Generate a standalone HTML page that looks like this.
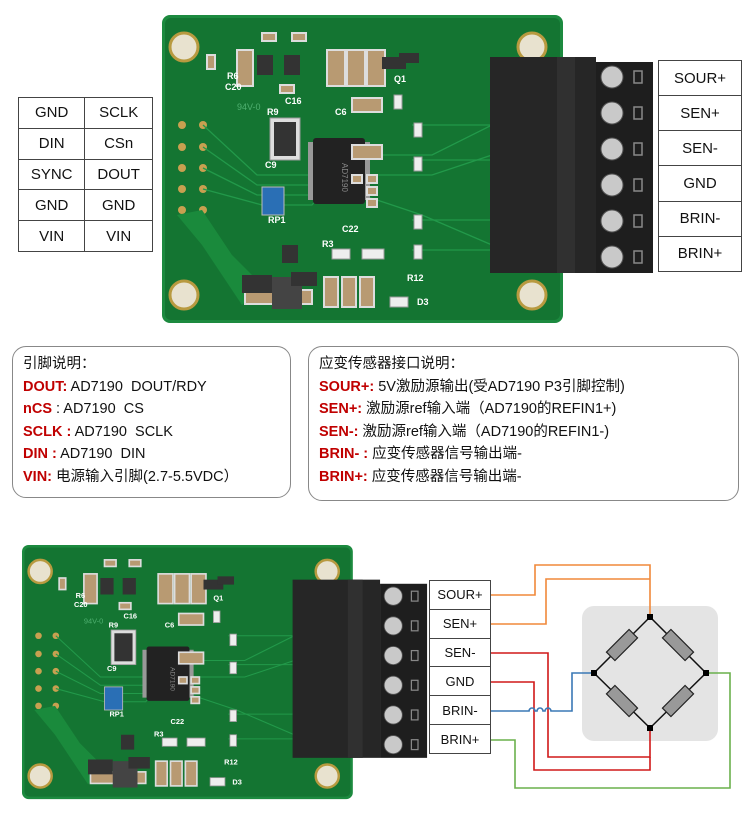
<!DOCTYPE html>
<html><head><meta charset="utf-8">
<style>
*{margin:0;padding:0;box-sizing:border-box}
body{width:750px;height:818px;background:#fff;position:relative;overflow:hidden;font-family:"Liberation Sans","Noto Sans CJK SC",sans-serif;color:#111}
table{position:absolute;border-collapse:collapse;background:#fff}
td{border:1.5px solid #444;text-align:center;font-size:15px;padding:0}
.box{position:absolute;border:1.5px solid #888;border-radius:14px;padding:6px 10px;font-size:14.5px;line-height:22.6px;background:#fff}
.r{color:#c00000;font-weight:bold}
</style></head><body>
<svg width="750" height="818" style="position:absolute;left:0;top:0">
<defs>
<g id="pcb">
 <rect x="0" y="0" width="401" height="308" rx="8" fill="#1c8a3f"/>
 <rect x="3" y="3" width="395" height="302" rx="6" fill="#147532"/>
 <g fill="#e8e2cf" stroke="#b89a40" stroke-width="3">
  <circle cx="22" cy="32" r="14"/><circle cx="370" cy="32" r="14"/>
  <circle cx="22" cy="280" r="14"/><circle cx="370" cy="280" r="14"/>
 </g>
 <g fill="#c8a050"><circle cx="20" cy="110" r="4"/><circle cx="41" cy="110" r="4"/><circle cx="20" cy="132" r="4"/><circle cx="41" cy="132" r="4"/><circle cx="20" cy="153" r="4"/><circle cx="41" cy="153" r="4"/><circle cx="20" cy="174" r="4"/><circle cx="41" cy="174" r="4"/><circle cx="20" cy="195" r="4"/><circle cx="41" cy="195" r="4"/></g>
 <g fill="none" stroke="#22994a" stroke-width="1.3">
  <path d="M41 110 L95 160 L150 160 L175 130"/><path d="M41 132 L95 170 L150 170 L175 140"/><path d="M41 153 L95 180 L150 180 L175 150"/><path d="M41 174 L100 190 L150 190 L175 160"/>
  <path d="M200 140 L270 140 L330 110"/><path d="M200 160 L270 160 L330 140"/><path d="M200 180 L260 200 L330 230"/>
  <path d="M250 110 H328"/><path d="M250 145 H328"/><path d="M250 205 H328"/><path d="M250 235 H328"/>
 </g>
 <path d="M15 200 L40 195 L70 240 L100 270 L80 290 L40 230Z" fill="#1a8a3c"/>
 <rect x="151" y="123" width="52" height="66" rx="3" fill="#222"/>
 <g fill="#999"><rect x="146" y="127" width="5" height="58"/><rect x="203" y="127" width="5" height="58"/></g>
 <text x="168" y="150" fill="#888" font-size="8" transform="rotate(90 175 155)">AD7190</text>
 <rect x="108" y="103" width="30" height="42" fill="#ddd" stroke="#999"/><rect x="112" y="107" width="22" height="34" fill="#333"/>
 <rect x="100" y="172" width="22" height="28" fill="#2a6fb5" stroke="#bbb"/>
 <g fill="#b89a72" stroke="#ddd" stroke-width="2">
  <rect x="165" y="35" width="18" height="36"/><rect x="185" y="35" width="18" height="36"/><rect x="205" y="35" width="18" height="36"/>
  <rect x="75" y="35" width="16" height="36"/><rect x="190" y="83" width="30" height="14"/><rect x="190" y="130" width="30" height="14"/>
  <rect x="162" y="262" width="14" height="30"/><rect x="180" y="262" width="14" height="30"/><rect x="198" y="262" width="14" height="30"/>
  <rect x="83" y="275" width="30" height="14"/><rect x="120" y="275" width="30" height="14"/>
  <rect x="190" y="160" width="10" height="8"/><rect x="205" y="160" width="10" height="8"/><rect x="205" y="172" width="10" height="8"/><rect x="205" y="184" width="10" height="8"/>
  <rect x="100" y="18" width="14" height="8"/><rect x="130" y="18" width="14" height="8"/><rect x="118" y="70" width="14" height="8"/><rect x="45" y="40" width="8" height="14"/>
 </g>
 <g fill="#eee" stroke="#999"><rect x="252" y="108" width="8" height="14"/><rect x="252" y="142" width="8" height="14"/><rect x="252" y="200" width="8" height="14"/><rect x="252" y="230" width="8" height="14"/><rect x="232" y="80" width="8" height="14"/><rect x="200" y="234" width="22" height="10"/><rect x="170" y="234" width="18" height="10"/><rect x="228" y="282" width="18" height="10"/></g>
 <g fill="#333"><rect x="95" y="40" width="16" height="20"/><rect x="122" y="40" width="16" height="20"/><rect x="220" y="42" width="24" height="12"/><rect x="80" y="260" width="30" height="18"/><rect x="110" y="262" width="30" height="32" fill="#444"/><rect x="120" y="230" width="16" height="18"/><rect x="129" y="257" width="26" height="14"/><rect x="237" y="38" width="20" height="10"/></g>
 <g fill="#fff" font-size="9" font-weight="bold" font-family="Liberation Sans"><text x="65" y="64">R6</text><text x="63" y="75">C20</text><text x="123" y="89">C16</text><text x="103" y="153">C9</text><text x="106" y="208">RP1</text><text x="180" y="217">C22</text><text x="173" y="100">C6</text><text x="105" y="100">R9</text><text x="245" y="266">R12</text><text x="255" y="290">D3</text><text x="160" y="232">R3</text><text x="232" y="67">Q1</text></g>
 <text x="75" y="95" fill="#4fb070" font-size="9">94V-0</text>
 <rect x="328" y="42" width="106" height="216" fill="#262626"/>
 <rect x="395" y="42" width="18" height="216" fill="#303030"/>
 <rect x="434" y="47" width="57" height="211" fill="#1e1e1e"/>
 <g fill="#c9c9c9" stroke="#555">
  <circle cx="450" cy="62" r="11"/><circle cx="450" cy="98" r="11"/><circle cx="450" cy="134" r="11"/><circle cx="450" cy="170" r="11"/><circle cx="450" cy="206" r="11"/><circle cx="450" cy="242" r="11"/>
 </g>
 <g fill="none" stroke="#888" stroke-width="1.5"><rect x="472" y="56" width="8" height="12"/><rect x="472" y="92" width="8" height="12"/><rect x="472" y="128" width="8" height="12"/><rect x="472" y="164" width="8" height="12"/><rect x="472" y="200" width="8" height="12"/><rect x="472" y="236" width="8" height="12"/></g>
</g>
</defs>
<use href="#pcb" transform="translate(162 15)"/>
<use href="#pcb" transform="translate(22 545) scale(0.825)"/>
<rect x="582" y="606" width="136" height="135" rx="12" fill="#e4e4e4"/>
<g fill="none" stroke-width="1.6">
 <path d="M491 595 H535 V565 H650 V617" stroke="#f0883a"/>
 <path d="M491 624 H546 V579 H650" stroke="#f0883a"/>
 <path d="M491 653 H548 V757 H650 V728" stroke="#d01818"/>
 <path d="M491 682 H534 V770 H650 V757" stroke="#d01818"/>
 <path d="M491 711 H529 a3 3 0 0 1 6 0 h2 a3 3 0 0 1 6 0 h2 a3 3 0 0 1 6 0 H572 V673 H594" stroke="#3a78b5"/>
 <path d="M491 740 H515 V788 H730 V673 H706" stroke="#6ab04c"/>
 <path d="M650 617 L706 673 L650 728 L594 673 Z" stroke="#111" stroke-width="1.5"/>
</g>
<g fill="#999" stroke="#222" stroke-width="1.2">
 <rect x="-16" y="-6" width="32" height="12" transform="translate(622 645) rotate(-45)"/>
 <rect x="-16" y="-6" width="32" height="12" transform="translate(678 645) rotate(45)"/>
 <rect x="-16" y="-6" width="32" height="12" transform="translate(622 701) rotate(45)"/>
 <rect x="-16" y="-6" width="32" height="12" transform="translate(678 701) rotate(-45)"/>
</g>
<g fill="#000"><rect x="647" y="614" width="6" height="6"/><rect x="703" y="670" width="6" height="6"/><rect x="591" y="670" width="6" height="6"/><rect x="647" y="725" width="6" height="6"/></g>
</svg>

<table style="left:18px;top:97px;width:135px;height:155px">
<tr><td>GND</td><td>SCLK</td></tr><tr><td>DIN</td><td>CSn</td></tr><tr><td>SYNC</td><td>DOUT</td></tr><tr><td>GND</td><td>GND</td></tr><tr><td>VIN</td><td>VIN</td></tr></table>

<table style="left:658px;top:60px;width:84px;height:212px">
<tr><td>SOUR+</td></tr><tr><td>SEN+</td></tr><tr><td>SEN-</td></tr><tr><td>GND</td></tr><tr><td>BRIN-</td></tr><tr><td>BRIN+</td></tr></table>

<table style="left:429px;top:580px;width:62px;height:174px">
<tr><td style="font-size:13px">SOUR+</td></tr><tr><td style="font-size:13px">SEN+</td></tr><tr><td style="font-size:13px">SEN-</td></tr><tr><td style="font-size:13px">GND</td></tr><tr><td style="font-size:13px">BRIN-</td></tr><tr><td style="font-size:13px">BRIN+</td></tr></table>

<div class="box" style="left:12px;top:346px;width:279px;height:152px">
引脚说明：<br><span class="r">DOUT:</span> AD7190&nbsp; DOUT/RDY<br><span class="r">nCS</span> : AD7190&nbsp; CS<br><span class="r">SCLK :</span> AD7190&nbsp; SCLK<br><span class="r">DIN :</span> AD7190&nbsp; DIN<br><span class="r">VIN:</span> 电源输入引脚(2.7-5.5VDC）</div>

<div class="box" style="left:308px;top:346px;width:431px;height:155px">
应变传感器接口说明：<br><span class="r">SOUR+:</span> 5V激励源输出(受AD7190 P3引脚控制)<br><span class="r">SEN+:</span> 激励源ref输入端（AD7190的REFIN1+)<br><span class="r">SEN-:</span> 激励源ref输入端（AD7190的REFIN1-)<br><span class="r">BRIN- :</span> 应变传感器信号输出端-<br><span class="r">BRIN+:</span> 应变传感器信号输出端-</div>
</body></html>
